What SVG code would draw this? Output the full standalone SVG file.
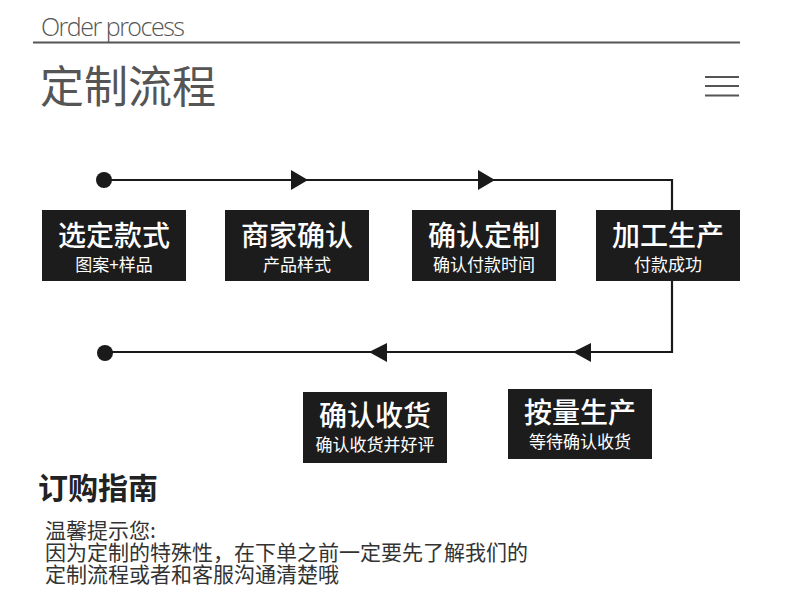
<svg xmlns="http://www.w3.org/2000/svg" width="790" height="615" viewBox="0 0 790 615">
<style>
.box{fill:#1c1c1c}
.t{font-family:"Noto Sans CJK SC","Noto Sans",sans-serif;fill:#fff;text-anchor:middle}
.tt{font-size:28px;font-weight:500}
.st{font-size:17px}
.ln{stroke:#1a1a1a;stroke-width:2.2;fill:none}
.ar{fill:#1a1a1a}
.cjk{font-family:"Noto Sans CJK SC",sans-serif}
</style>
<rect width="790" height="615" fill="#fff"/>
<g id="header">
<text x="41" y="36" font-family="Open Sans, sans-serif" font-weight="300" font-size="25" fill="#555" textLength="144" lengthAdjust="spacing">Order process</text>
<rect x="33" y="41.5" width="707" height="2" fill="#555"/>
<text x="40" y="103" class="cjk" font-size="44" fill="#555">定制流程</text>
<rect x="705" y="76" width="34" height="2" fill="#555"/>
<rect x="705" y="85" width="34" height="2" fill="#555"/>
<rect x="705" y="94.5" width="34" height="2" fill="#555"/>
</g>
<g id="connectors">
<circle cx="104" cy="180" r="8" class="ar"/>
<polyline class="ln" points="104,180 672,180 672,352 104,352"/>
<polygon class="ar" points="291,170 308,180 291,190"/>
<polygon class="ar" points="478,170 495,180 478,190"/>
<polygon class="ar" points="387,343 369,352 387,362"/>
<polygon class="ar" points="591,343 573,352 591,362"/>
<circle cx="105" cy="353" r="8" class="ar"/>
</g>
<g id="n1">
<rect class="box" x="42" y="210" width="144" height="71"/>
<text class="t tt" x="114" y="246">选定款式</text>
<text class="t st" x="114" y="271">图案+样品</text>
</g>
<g id="n2">
<rect class="box" x="225" y="210" width="144" height="71"/>
<text class="t tt" x="297" y="246">商家确认</text>
<text class="t st" x="297" y="271">产品样式</text>
</g>
<g id="n3">
<rect class="box" x="412" y="210" width="144" height="71"/>
<text class="t tt" x="484" y="246">确认定制</text>
<text class="t st" x="484" y="271">确认付款时间</text>
</g>
<g id="n4">
<rect class="box" x="596" y="210" width="144" height="71"/>
<text class="t tt" x="668" y="246">加工生产</text>
<text class="t st" x="668" y="271">付款成功</text>
</g>
<g id="n5">
<rect class="box" x="303" y="392" width="144" height="71"/>
<text class="t tt" x="375" y="426">确认收货</text>
<text class="t st" x="375" y="451">确认收货并好评</text>
</g>
<g id="n6">
<rect class="box" x="508" y="389" width="144" height="70"/>
<text class="t tt" x="580" y="423">按量生产</text>
<text class="t st" x="580" y="448">等待确认收货</text>
</g>
<g id="guide">
<text x="38" y="499" class="cjk" font-size="30" font-weight="bold" fill="#222">订购指南</text>
<g class="cjk" font-size="21" fill="#333">
<text x="45" y="538">温馨提示您:</text>
<text x="45" y="560">因为定制的特殊性，在下单之前一定要先了解我们的</text>
<text x="45" y="582">定制流程或者和客服沟通清楚哦</text>
</g>
</g>
</svg>
